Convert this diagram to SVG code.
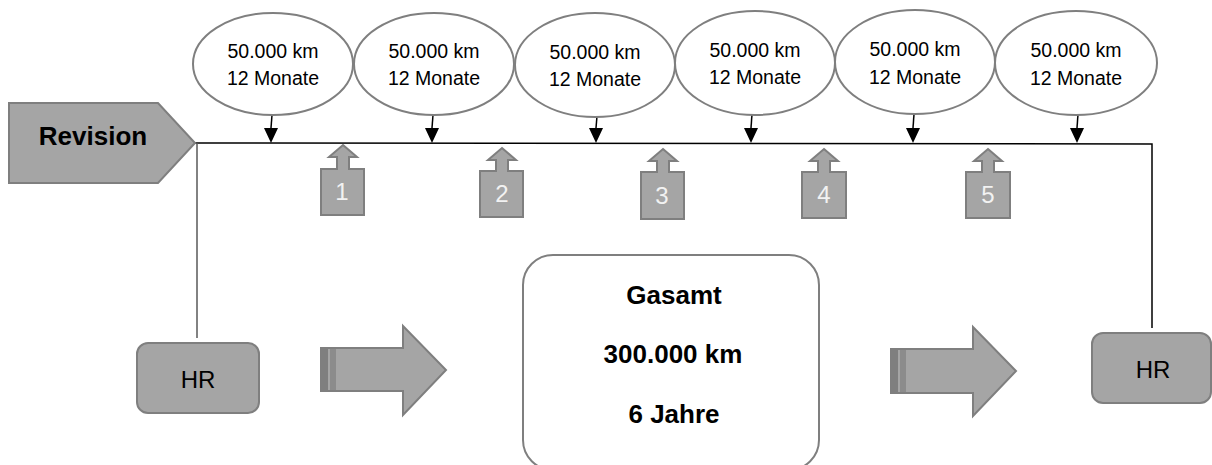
<svg xmlns="http://www.w3.org/2000/svg" width="1212" height="465" viewBox="0 0 1212 465">
<style>
.ell{fill:#ffffff;stroke:#7f7f7f;stroke-width:2}
.gray{fill:#a5a5a5;stroke:#7f7f7f;stroke-width:2}
.et{font-family:"Liberation Sans",Arial,sans-serif;font-size:19.5px;fill:#000;text-anchor:middle}
.bt{font-family:"Liberation Sans",Arial,sans-serif;font-size:26px;font-weight:bold;fill:#000;text-anchor:middle}
.nt{font-family:"Liberation Sans",Arial,sans-serif;font-size:24px;fill:#f2f2f2;text-anchor:middle}
.hr{font-family:"Liberation Sans",Arial,sans-serif;font-size:24px;fill:#000;text-anchor:middle}
.ln{stroke:#000;stroke-width:1.5;fill:none}
.ln2{stroke:#595959;stroke-width:1.5;fill:none}
</style>
<g id="connectors">
<path class="ln" d="M195,143 L1152,144 L1152,328"/>
<path class="ln2" d="M197,143 L197,338"/>
<g stroke="#000" stroke-width="1.5">
<line x1="272" y1="115" x2="271" y2="128"/>
<line x1="433" y1="115" x2="432" y2="128"/>
<line x1="597" y1="116" x2="596" y2="128"/>
<line x1="752" y1="114" x2="751" y2="128"/>
<line x1="914" y1="114" x2="913" y2="128"/>
<line x1="1078" y1="114" x2="1077" y2="128"/>
</g>
<g fill="#000">
<polygon points="264,128 278,128 271,143"/>
<polygon points="425,128 439,128 432,143"/>
<polygon points="589,128 603,128 596,143"/>
<polygon points="744,128 758,128 751,143"/>
<polygon points="906,128 920,128 913,143"/>
<polygon points="1070,128 1084,128 1077,143"/>
</g>
</g>
<g id="revision">
<polygon class="gray" points="9,103 158,103 195,143 158,183 9,183"/>
<text class="bt" x="93" y="145">Revision</text>
</g>
<g id="e1"><ellipse class="ell" cx="273" cy="64" rx="80" ry="51"/><text class="et" x="273" y="58">50.000 km</text><text class="et" x="273" y="85">12 Monate</text></g>
<g id="e2"><ellipse class="ell" cx="434" cy="64" rx="80" ry="51"/><text class="et" x="434" y="58">50.000 km</text><text class="et" x="434" y="85">12 Monate</text></g>
<g id="e3"><ellipse class="ell" cx="595" cy="65" rx="80" ry="52"/><text class="et" x="595" y="59">50.000 km</text><text class="et" x="595" y="86">12 Monate</text></g>
<g id="e4"><ellipse class="ell" cx="755" cy="63" rx="80" ry="52"/><text class="et" x="755" y="57">50.000 km</text><text class="et" x="755" y="84">12 Monate</text></g>
<g id="e5"><ellipse class="ell" cx="915" cy="62" rx="80" ry="52"/><text class="et" x="915" y="56">50.000 km</text><text class="et" x="915" y="84">12 Monate</text></g>
<g id="e6"><ellipse class="ell" cx="1076" cy="63" rx="81" ry="52"/><text class="et" x="1076" y="57">50.000 km</text><text class="et" x="1076" y="85">12 Monate</text></g>
<g id="n1"><polygon class="gray" points="343,145 357,157 349,157 349,169 364,169 364,215 321,215 321,169 337,169 337,157 329,157"/><text class="nt" x="342" y="200">1</text></g>
<g id="n2"><polygon class="gray" points="502,148 516,160 508,160 508,171 523,171 523,217 480,217 480,171 496,171 496,160 488,160"/><text class="nt" x="502" y="202">2</text></g>
<g id="n3"><polygon class="gray" points="663,149 677,161 669,161 669,172 684,172 684,219 641,219 641,172 657,172 657,161 649,161"/><text class="nt" x="662" y="204">3</text></g>
<g id="n4"><polygon class="gray" points="824,149 838,161 830,161 830,172 846,172 846,218 802,218 802,172 818,172 818,161 810,161"/><text class="nt" x="824" y="203">4</text></g>
<g id="n5"><polygon class="gray" points="988,149 1002,161 994,161 994,172 1010,172 1010,218 966,218 966,172 982,172 982,161 974,161"/><text class="nt" x="988" y="203">5</text></g>
<g id="hr1"><rect class="gray" x="137" y="343" width="122" height="70" rx="11"/><text class="hr" x="198" y="388">HR</text></g>
<g id="hr2"><rect class="gray" x="1092" y="333" width="119" height="70" rx="11"/><text class="hr" x="1153" y="378">HR</text></g>
<g id="arrow1">
<polygon class="gray" points="321,348 403,348 403,326 446,370 403,415 403,391 321,391"/>
<rect x="321" y="349" width="7" height="41" fill="#7f7f7f"/>
<rect x="330" y="349" width="6" height="41" fill="#8c8c8c"/>
</g>
<g id="arrow2">
<polygon class="gray" points="891,349 973,349 973,327 1016,371 973,416 973,393 891,393"/>
<rect x="891" y="350" width="7" height="42" fill="#7f7f7f"/>
<rect x="900" y="350" width="6" height="42" fill="#8c8c8c"/>
</g>
<g id="gesamt">
<rect x="523" y="255" width="296" height="215" rx="30" fill="#ffffff" stroke="#7f7f7f" stroke-width="2"/>
<text class="bt" x="674" y="304">Gasamt</text>
<text class="bt" x="673" y="363">300.000 km</text>
<text class="bt" x="674" y="423">6 Jahre</text>
</g>
</svg>
